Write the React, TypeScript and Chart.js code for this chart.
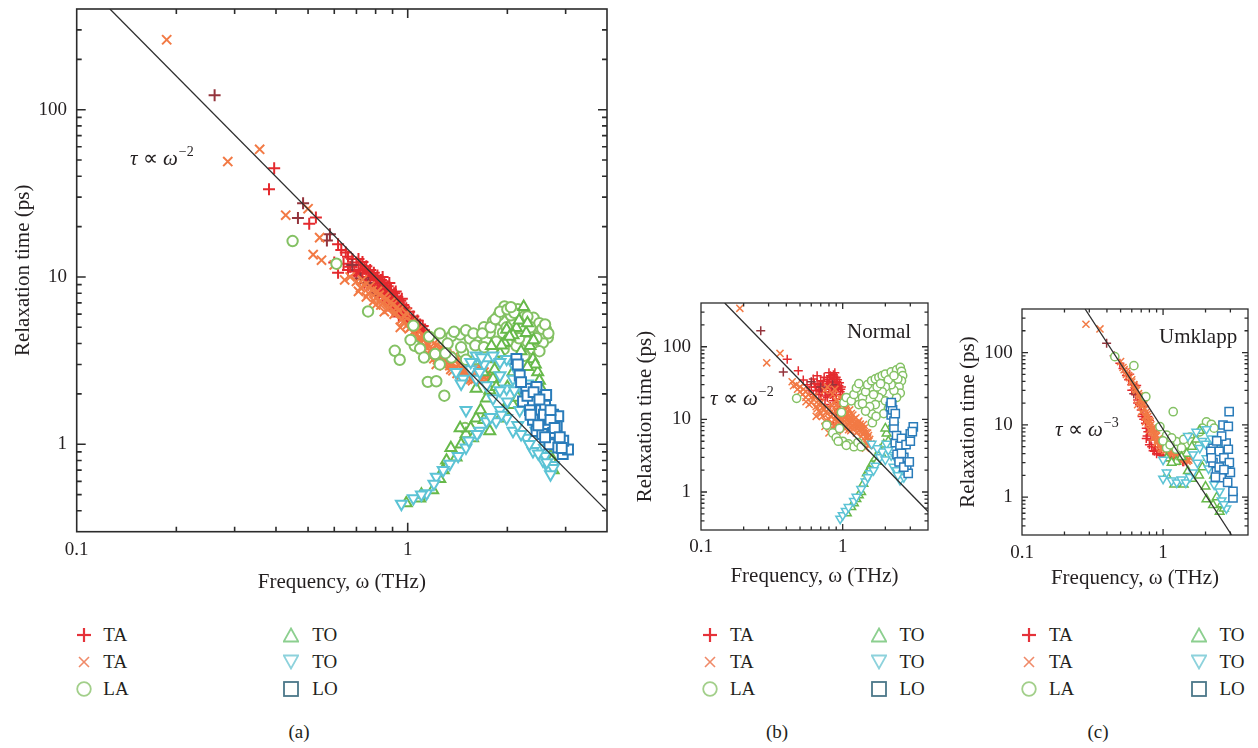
import React, { useEffect, useRef } from 'react';
import { Chart, registerables } from 'chart.js';
Chart.register(...registerables);

type P = [number, number];

// ---------- axis ticks ----------
const X_MAJOR = [0.1, 1];
const X_MINOR = [0.2, 0.3, 0.4, 0.5, 0.6, 0.7, 0.8, 0.9, 2, 3, 4];
const Y_MAJOR = [1, 10, 100];
const Y_MINOR = [0.3, 0.4, 0.5, 0.6, 0.7, 0.8, 0.9, 2, 3, 4, 5, 6, 7, 8, 9, 20, 30, 40, 50, 60, 70, 80, 90, 200, 300, 400];
const X_LABELS: Record<string, string> = { '0.1': '0.1', '1': '1' };
const Y_LABELS: Record<string, string> = { '1': '1', '10': '10', '100': '100' };
const X_TITLE = 'Frequency, ω (THz)';
const Y_TITLE = 'Relaxation time (ps)';
const LEGEND_LABELS = ['TA', 'TA', 'LA', 'TO', 'TO', 'LO'];
const SERIES_NAMES = ['TA', 'TA', 'TA', 'LA', 'TO', 'TO', 'LO'];

// ---------- panel (a) ----------
const A_TA_PLUS: P[] = [
  [0.395, 44.7], [0.381, 33.5], [0.528, 22.7], [0.504, 20.8], [0.616, 15.7], [0.63, 14.5], [0.65, 14.0], [0.616, 10.6], [0.60, 12.2],
  [0.66, 13.2], [0.68, 12.8], [0.67, 11.5], [0.70, 12.2], [0.71, 11.0], [0.72, 11.8], [0.73, 10.6], [0.74, 11.2], [0.75, 10.0],
  [0.76, 10.8], [0.77, 9.6], [0.78, 10.2], [0.79, 9.2], [0.80, 9.8], [0.81, 8.8], [0.82, 9.3], [0.83, 8.4], [0.84, 8.9], [0.85, 7.9],
  [0.86, 8.5], [0.87, 7.6], [0.88, 8.1], [0.89, 7.2], [0.90, 7.7], [0.91, 6.9], [0.92, 7.3], [0.93, 6.6], [0.94, 7.0], [0.95, 6.3],
  [0.96, 6.6], [0.97, 6.0], [0.98, 6.2], [0.99, 5.7], [1.00, 5.9], [1.02, 5.5], [1.03, 5.2], [1.05, 5.3], [1.06, 4.9], [1.08, 5.0],
  [1.10, 4.7], [1.12, 4.8], [0.74, 9.2], [0.78, 8.6], [0.82, 7.8], [0.86, 7.1], [0.90, 6.3], [0.94, 5.8], [0.70, 10.2], [0.84, 10.0],
  [0.88, 9.2], [0.92, 8.2], [0.96, 7.4],
  [0.64, 12.0], [0.66, 11.0], [0.69, 10.8], [0.71, 12.8], [0.73, 12.3], [0.75, 11.6], [0.77, 11.0], [0.79, 10.6], [0.81, 10.2],
  [0.83, 9.6], [0.85, 9.3], [0.87, 8.8], [0.89, 8.4], [0.91, 8.0], [0.93, 7.6], [0.95, 7.2], [0.97, 6.8], [0.99, 6.5], [1.01, 6.2],
  [1.04, 5.8], [1.07, 5.5], [1.09, 5.2], [1.11, 5.1], [1.14, 4.6], [0.80, 8.5], [0.84, 7.6], [0.88, 6.9], [0.92, 6.4], [0.96, 5.9],
  [1.00, 5.4], [1.04, 5.0], [0.76, 9.0], [0.72, 10.5],
];
const A_TA_DARK: P[] = [
  [0.261, 122], [0.483, 27.6], [0.466, 22.5], [0.582, 18.0], [0.57, 16.5], [0.68, 11.8], [0.72, 9.8], [0.76, 9.2], [0.80, 8.0],
];
const A_TA_CROSS: P[] = [
  [0.187, 262], [0.357, 58], [0.286, 49], [0.500, 25.6], [0.549, 12.6], [0.428, 23.4], [0.542, 17.2], [0.518, 13.6], [0.645, 9.6],
  [0.60, 11.8], [0.67, 10.0], [0.70, 9.4], [0.72, 8.6], [0.74, 8.9], [0.76, 8.0], [0.78, 8.3], [0.80, 7.5], [0.82, 7.8], [0.84, 7.0],
  [0.86, 7.3], [0.88, 6.6], [0.90, 6.8], [0.92, 6.1], [0.94, 6.3], [0.96, 5.6], [0.98, 5.8], [1.00, 5.2], [1.02, 5.0], [1.04, 4.7],
  [1.06, 4.5], [1.08, 4.2], [1.10, 4.3], [1.12, 3.9], [1.15, 4.0], [1.18, 3.7], [1.21, 3.5], [1.24, 3.6], [1.27, 3.3], [1.30, 3.2],
  [1.33, 3.1], [1.36, 3.0], [1.40, 2.9], [1.43, 2.8], [1.47, 2.75], [1.50, 2.65], [1.54, 2.6], [1.58, 2.55], [1.62, 2.5], [1.66, 2.48],
  [1.25, 3.05], [1.35, 2.8], [1.45, 2.6], [1.55, 2.45], [1.20, 3.25], [1.12, 3.6], [1.05, 4.1], [0.95, 5.0], [0.85, 6.2], [0.80, 6.8],
  [1.70, 2.7], [1.60, 2.75], [1.30, 3.6], [1.40, 3.2], [1.18, 4.2], [1.50, 2.9],
  [0.71, 8.2], [0.73, 9.6], [0.75, 7.6], [0.77, 8.8], [0.79, 7.2], [0.81, 8.2], [0.83, 6.8], [0.85, 7.6], [0.87, 6.4], [0.89, 7.1],
  [0.91, 6.0], [0.93, 6.6], [0.97, 5.4], [0.99, 6.1], [1.01, 4.9], [1.03, 5.4], [1.07, 4.8], [1.09, 4.0], [1.11, 4.5], [1.14, 3.8],
  [1.16, 4.3], [1.19, 3.5], [1.22, 3.9], [1.26, 3.4], [1.28, 3.7], [1.32, 3.35], [1.34, 2.95], [1.38, 3.2], [1.42, 3.0], [1.44, 2.7],
  [1.48, 2.9], [1.52, 2.55], [1.56, 2.7], [1.60, 2.45], [1.64, 2.65], [1.68, 2.55], [1.72, 2.6],
  [1.13, 4.4], [1.17, 3.3], [1.20, 4.0], [1.23, 3.2], [1.26, 3.8], [1.29, 2.95], [1.31, 3.5], [1.34, 3.35], [1.37, 2.75], [1.39, 3.4],
  [1.41, 2.65], [1.46, 3.1], [1.49, 2.5], [1.53, 2.85], [1.57, 2.4], [1.61, 2.9], [1.65, 2.35], [1.69, 2.8], [1.73, 2.45], [1.76, 2.65],
  [1.10, 3.7], [1.15, 3.5], [1.22, 3.0], [1.28, 3.1],
];
const A_LA: P[] = [
  [0.449, 16.4], [0.609, 12.0], [0.759, 6.22], [1.04, 5.12], [0.914, 3.62], [0.946, 3.2], [1.05, 3.88], [1.09, 3.73], [1.16, 4.4],
  [1.15, 2.36], [1.22, 2.38], [1.29, 1.95], [1.21, 3.46], [1.28, 4.27], [1.355, 4.43], [1.44, 4.53], [1.54, 4.28], [1.63, 4.43],
  [1.73, 4.2], [1.355, 3.3], [1.47, 3.54], [1.61, 3.23], [1.94, 5.43], [1.96, 6.66], [2.15, 6.42], [1.81, 5.43], [1.94, 4.64],
  [2.10, 5.43], [2.28, 5.31], [2.34, 4.53], [2.47, 5.08], [2.62, 4.85], [2.65, 4.34], [2.56, 4.05], [2.39, 3.7], [2.25, 3.38],
  [2.13, 3.88], [2.05, 4.5], [1.77, 4.64], [1.45, 3.8], [1.49, 1.25], [1.70, 5.0], [1.88, 5.9], [2.05, 5.9], [2.40, 5.7], [2.58, 4.6],
  [1.60, 3.9], [1.85, 4.1], [2.20, 4.9], [2.00, 4.1],
  [1.25, 4.6], [1.32, 4.0], [1.38, 4.7], [1.50, 4.8], [1.58, 4.6], [1.68, 4.6], [1.78, 5.0], [1.84, 5.6], [1.90, 6.2], [2.00, 6.4],
  [2.10, 6.1], [2.25, 5.8], [2.35, 5.0], [2.50, 5.3], [2.55, 4.9], [2.45, 4.3], [2.30, 4.1], [2.17, 4.3], [1.95, 3.7], [1.80, 3.6],
  [1.70, 3.8], [1.50, 3.2], [1.30, 3.5], [1.25, 3.0], [1.12, 3.3], [1.02, 4.2], [2.66, 4.6], [2.60, 5.2], [2.50, 3.6], [2.05, 6.6],
  [1.99, 5.0], [2.30, 5.8],
];
const A_TO_UP: P[] = [
  [0.99, 0.444], [1.087, 0.475], [1.19, 0.531], [1.25, 0.62], [1.31, 0.80], [1.40, 0.834], [1.50, 1.15], [1.61, 1.43], [1.73, 1.88],
  [1.81, 2.46], [1.85, 3.23], [1.96, 4.05], [1.99, 4.85], [2.13, 4.97], [2.28, 4.64], [2.34, 3.88], [2.39, 3.23], [2.47, 2.70],
  [2.53, 2.15], [2.62, 1.43], [2.68, 1.0], [2.75, 0.70], [2.08, 1.72], [1.90, 1.43], [1.77, 1.2], [1.57, 1.09], [1.44, 1.25],
  [1.69, 2.7], [2.08, 2.7], [2.20, 2.46], [1.61, 2.15], [1.79, 3.88], [2.24, 6.63], [2.08, 4.5], [1.90, 3.5], [2.20, 3.6], [2.60, 1.8],
  [2.70, 0.85], [1.35, 0.95], [2.00, 2.2],
  [1.10, 0.5], [1.28, 0.7], [1.45, 1.0], [1.55, 1.25], [1.66, 1.6], [1.77, 2.1], [1.83, 2.8], [1.92, 3.9], [2.03, 4.4], [2.17, 5.5],
  [2.30, 5.3], [2.40, 4.2], [2.43, 3.0], [2.50, 2.4], [2.56, 1.9], [2.65, 1.2], [2.72, 0.8], [1.95, 1.6], [2.15, 1.9], [2.30, 2.9],
  [1.85, 2.2], [1.70, 1.4],
];
const A_TO_DOWN: P[] = [
  [0.957, 0.44], [1.04, 0.475], [1.14, 0.508], [1.22, 0.637], [1.34, 0.762], [1.50, 0.955], [1.53, 1.05], [1.73, 1.37], [1.85, 1.37],
  [1.99, 1.43], [2.08, 1.2], [2.28, 1.09], [2.39, 0.91], [2.56, 0.8], [2.68, 0.70], [2.75, 0.75], [1.81, 1.88], [1.99, 2.15],
  [1.90, 2.58], [1.61, 3.38], [1.81, 3.38], [1.99, 3.23], [1.47, 2.46], [1.61, 2.46], [1.73, 2.25], [2.08, 2.46], [2.23, 2.06],
  [2.34, 1.72], [2.18, 1.6], [2.44, 1.2], [2.59, 0.95], [2.75, 0.72], [1.90, 1.6], [1.50, 1.6], [1.70, 3.0], [1.55, 2.8], [1.40, 2.7],
  [2.60, 0.85], [2.70, 0.66], [1.20, 0.58], [1.65, 1.2],
  [1.10, 0.5], [1.28, 0.7], [1.42, 0.85], [1.62, 1.15], [1.78, 1.45], [1.92, 1.5], [2.15, 1.3], [2.20, 1.15], [2.33, 1.0], [2.48, 0.88],
  [2.63, 0.78], [2.00, 1.8], [2.10, 2.1], [1.90, 2.1], [1.55, 3.1], [1.67, 3.3], [1.90, 3.1], [2.10, 2.9], [2.30, 2.3], [2.40, 1.9],
  [2.50, 1.5], [1.65, 2.7], [1.45, 2.3],
];
const A_LO: P[] = [
  [2.13, 3.23], [2.18, 2.58], [2.28, 2.15], [2.45, 2.2], [2.23, 1.8], [2.39, 1.8], [2.62, 1.97], [2.53, 1.6], [2.75, 1.5], [2.65, 1.32],
  [2.75, 1.17], [2.85, 1.47], [2.82, 1.28], [2.68, 1.0], [2.85, 0.955], [2.94, 0.874], [3.05, 0.93], [2.50, 1.4], [2.34, 1.6],
  [2.45, 1.2], [2.39, 1.4], [2.55, 1.15], [2.95, 1.05], [2.60, 1.7],
  [2.20, 2.35], [2.30, 1.95], [2.40, 2.05], [2.50, 1.85], [2.58, 1.5], [2.70, 1.4], [2.78, 1.25], [2.60, 1.1], [2.88, 1.1], [2.92, 0.95],
  [2.48, 1.3], [2.70, 1.6], [2.35, 1.5], [2.15, 3.0],
];
const A_FIT: P[] = [[0.126, 400], [4, 0.398]];

// ---------- panel (b) ----------
const B_TA_PLUS: P[] = [
  [0.406, 67], [0.486, 46.8], [0.527, 34.8], [0.56, 30], [0.60, 28], [0.62, 36], [0.65, 25], [0.66, 31], [0.68, 22], [0.70, 34],
  [0.72, 27], [0.74, 38], [0.75, 24], [0.77, 30], [0.78, 35], [0.80, 26], [0.82, 40], [0.83, 29], [0.85, 33], [0.86, 41], [0.87, 25],
  [0.88, 37], [0.90, 30], [0.92, 35], [0.93, 27], [0.95, 32], [0.96, 24], [0.70, 19], [0.78, 20], [0.85, 21], [0.90, 22], [0.62, 22],
  [0.58, 25], [0.66, 40], [0.80, 44], [0.88, 44], [0.98, 28], [1.00, 22], [0.75, 16], [0.82, 15], [0.88, 12], [0.92, 10.5], [0.80, 9],
  [0.86, 8.5], [0.95, 14], [0.72, 30], [0.90, 38], [0.84, 27],
  [0.64, 28], [0.68, 30], [0.71, 24], [0.73, 33], [0.76, 27], [0.79, 31], [0.81, 36], [0.84, 38], [0.87, 32], [0.89, 28], [0.91, 33],
  [0.94, 29], [0.97, 26], [0.82, 22], [0.76, 21], [0.69, 26], [0.63, 31], [0.86, 18], [0.92, 17], [0.97, 19],
];
const B_TA_DARK: P[] = [[0.264, 166], [0.381, 45], [0.60, 33], [0.70, 28], [0.85, 30], [0.90, 12]];
const B_TA_CROSS: P[] = [
  [0.188, 338], [0.361, 81], [0.291, 60], [0.551, 17.5], [0.44, 33], [0.47, 30], [0.50, 28], [0.53, 26], [0.55, 24], [0.60, 20],
  [0.58, 16], [0.65, 15], [0.68, 13], [0.70, 17], [0.72, 11], [0.76, 12.5], [0.80, 14], [0.82, 11], [0.84, 9], [0.87, 8.2], [0.90, 13],
  [0.92, 9.8], [0.95, 11], [0.97, 8.5], [1.00, 12], [1.02, 9.5], [1.05, 11], [1.08, 8.6], [1.10, 10.3], [1.13, 7.8], [1.16, 9.2],
  [1.20, 7.5], [1.25, 8.3], [1.30, 7], [1.35, 7.6], [1.40, 6.4], [1.45, 5.8], [1.50, 6.5], [1.55, 5.3], [1.50, 4.4], [1.45, 4.0],
  [0.90, 18], [1.00, 16], [0.85, 22], [0.75, 25], [0.78, 28], [0.88, 26], [0.95, 20], [1.05, 14], [1.15, 12], [0.80, 6.5], [0.92, 7.0],
  [0.75, 9.5],
  [0.96, 10], [1.00, 9], [1.03, 10.5], [1.06, 8], [1.09, 9.5], [1.12, 8.8], [1.14, 10.5], [1.18, 8.2], [1.22, 9], [1.27, 7.6], [1.32, 8],
  [1.38, 7], [1.42, 6.8], [1.48, 5.5], [1.52, 6], [0.98, 13], [1.08, 12], [1.20, 10], [1.10, 7.2], [1.25, 6.5], [1.35, 5.8], [0.88, 10],
  [0.94, 8], [0.86, 12], [0.80, 10], [0.70, 12], [0.66, 14], [0.60, 17], [0.63, 21], [0.57, 22], [0.67, 18], [0.74, 14], [0.83, 16],
  [0.93, 15], [1.00, 19], [1.06, 16], [1.12, 13.5], [1.18, 11.5], [1.30, 9.5], [1.40, 8.5], [1.48, 4.8], [1.55, 4.4],
  [0.90, 15.5], [0.95, 17], [1.02, 13], [1.06, 12.5], [1.10, 11.2], [1.15, 10], [1.20, 8.8], [1.24, 10.5], [1.28, 9], [1.33, 8.6],
  [1.37, 7.4], [1.42, 7.6], [1.46, 6.6], [1.50, 5.6], [1.53, 5], [1.58, 4.6], [0.97, 11.6], [1.04, 7.4], [1.14, 7], [0.84, 13],
  [0.78, 12], [0.72, 14.5], [0.68, 16], [0.62, 19], [0.55, 20], [0.52, 22], [0.48, 26], [0.45, 29], [0.50, 24], [0.65, 11], [0.75, 8],
  [0.85, 7.5], [0.95, 9],
];
const B_LA: P[] = [
  [0.473, 19.5], [0.771, 8.36], [0.85, 6.5], [0.90, 5.6], [0.95, 7.5], [1.00, 5.0], [1.10, 4.6], [1.20, 4.2],
  [1.28, 4.8], [1.35, 4.2], [1.02, 17], [1.06, 20], [1.15, 18], [1.20, 22], [1.25, 27],
  [1.30, 31], [1.30, 16], [1.38, 20], [1.45, 24], [1.50, 30], [1.60, 34], [1.70, 36], [1.80, 38], [1.90, 40],
  [2.00, 42], [2.20, 45], [2.40, 48], [2.55, 52], [2.60, 46], [2.65, 40], [2.60, 34], [2.50, 28], [2.55, 23], [2.40, 20], [2.30, 25],
  [2.20, 30], [2.10, 35], [2.00, 28], [1.90, 24], [1.80, 20], [1.70, 16], [1.60, 12], [1.55, 15], [1.65, 22],
  [1.75, 28], [1.85, 31], [2.00, 18], [2.10, 14], [1.45, 13], [1.95, 12], [2.20, 17], [2.45, 36], [2.30, 40],
  [0.98, 12.5], [1.62, 9], [1.72, 11], [1.38, 16.5], [0.93, 5.0], [1.06, 4.4],
];
const B_TO_UP: P[] = [
  [1.07, 0.51], [1.15, 0.62], [1.25, 0.8], [1.35, 1.0], [1.48, 1.81], [1.60, 2.4], [1.70, 2.9], [1.83, 3.78], [2.04, 6.4], [2.10, 5.0],
  [1.95, 4.5], [1.40, 1.3], [1.55, 2.0], [2.20, 8.0], [2.30, 10], [1.90, 3.2], [1.75, 2.6], [1.30, 0.9], [1.20, 0.7], [2.00, 7.5],
];
const B_TO_DOWN: P[] = [
  [0.96, 0.43], [1.00, 0.48], [1.05, 0.55], [1.10, 0.62], [1.20, 0.75], [1.25, 0.86], [1.35, 1.1], [1.45, 1.4], [1.56, 1.81], [1.70, 2.3],
  [1.83, 3.0], [2.04, 4.6], [2.28, 2.23], [2.54, 1.46], [2.80, 1.8], [2.20, 3.2], [2.40, 2.0], [2.60, 2.5], [1.90, 3.6], [2.00, 2.8],
  [1.75, 4.0], [1.60, 4.6], [2.10, 3.8], [2.35, 3.0], [1.50, 1.6], [1.65, 2.0], [2.70, 1.6], [2.45, 1.7],
];
const B_LO: P[] = [
  [2.22, 15.8], [2.20, 11.5], [2.30, 7.7], [2.35, 4.8], [2.54, 3.7], [2.83, 2.23], [2.90, 1.8], [3.15, 7.9], [3.00, 6.3], [2.54, 4.4],
  [2.17, 15], [2.42, 3.3], [2.25, 13.5], [2.30, 9.5], [2.40, 6], [2.60, 5.5], [2.70, 3], [2.80, 4.5], [3.00, 5.0], [3.10, 6.8],
  [2.50, 2.6], [2.70, 2.2], [2.95, 2.6], [2.60, 3.4], [2.20, 17], [2.35, 12],
];
const B_FIT: P[] = [[0.147, 400], [4, 0.54]];

// ---------- panel (c) ----------
const C_TA_PLUS: P[] = [
  [0.494, 71], [0.52, 60], [0.55, 48], [0.57, 42], [0.60, 36], [0.62, 30], [0.64, 26], [0.66, 22], [0.68, 19], [0.70, 16], [0.72, 14],
  [0.73, 12], [0.75, 10.5], [0.76, 9], [0.76, 6.5], [0.78, 8], [0.80, 5.3], [0.82, 6.2], [0.85, 4.4], [0.88, 5.0], [0.90, 4.0],
  [0.95, 3.9], [1.00, 3.7], [1.06, 3.6], [1.15, 3.4], [1.30, 3.2], [1.47, 3.1], [0.58, 50], [0.65, 35], [0.70, 24], [0.74, 18],
  [0.78, 13], [0.80, 11.5], [0.83, 9.5], [0.86, 8.2], [1.25, 3.3], [1.38, 3.1], [0.92, 4.6],
  [0.60, 30], [0.66, 20], [0.71, 13], [0.77, 7], [0.83, 5], [0.87, 4.3], [0.97, 3.8], [1.10, 3.5], [1.20, 3.4], [1.40, 3.1],
];
const C_TA_DARK: P[] = [[0.398, 134], [0.45, 90], [0.62, 27]];
const C_TA_CROSS: P[] = [
  [0.284, 246], [0.357, 212], [0.50, 75], [0.52, 62], [0.55, 55], [0.57, 48], [0.60, 42], [0.62, 36], [0.65, 30], [0.67, 27], [0.70, 22],
  [0.72, 20], [0.74, 17], [0.76, 15], [0.78, 13], [0.80, 11.5], [0.82, 10], [0.84, 9], [0.86, 8], [0.88, 7.5], [0.90, 7], [0.93, 6.4],
  [0.96, 6], [1.00, 5.6], [1.04, 5.2], [1.08, 4.9], [1.12, 4.6], [1.18, 4.3], [1.25, 4.0], [1.30, 3.8], [1.38, 3.6], [1.45, 3.4],
  [1.50, 3.3], [1.55, 3.5], [0.75, 11], [0.80, 8.5], [0.85, 6.6], [0.90, 5.6], [0.95, 5.0], [1.00, 4.6], [1.10, 4.2], [1.20, 3.8],
  [0.70, 15], [0.66, 19],
  [0.53, 58], [0.58, 45], [0.63, 33], [0.68, 25], [0.73, 19], [0.77, 14], [0.81, 11], [0.85, 8.6], [0.89, 7.2], [0.92, 6.0],
  [0.98, 5.3], [1.02, 4.9], [1.06, 4.5], [1.14, 4.2], [1.22, 3.9], [1.34, 3.5], [1.42, 3.3],
  [0.55, 50], [0.60, 39], [0.64, 31], [0.69, 23], [0.71, 18], [0.75, 13], [0.79, 10.5], [0.83, 8], [0.87, 6.8], [0.91, 6.2], [0.94, 5.4],
  [0.97, 4.7], [1.03, 4.4], [1.09, 4.5], [1.16, 4.0], [1.24, 3.6], [1.32, 3.6], [1.40, 3.4], [1.48, 3.15], [1.52, 3.25],
];
const C_LA: P[] = [
  [0.455, 87.7], [0.621, 65.8], [0.755, 24.5], [1.18, 15.2], [0.95, 9.44], [1.06, 7.2], [1.24, 5.85], [1.47, 5.4], [1.06, 4.8],
  [1.24, 4.6], [2.03, 11.0], [2.20, 10.2], [1.82, 8.0], [1.55, 6.8], [1.00, 6.0], [1.12, 5.3], [1.35, 4.8], [1.60, 5.8], [1.90, 9.0],
  [1.40, 6.3], [1.15, 6.6], [2.30, 9.0],
];
const C_TO_UP: P[] = [
  [1.06, 3.45], [1.24, 3.1], [1.47, 4.0], [1.72, 6.3], [1.82, 8.3], [1.60, 5.0], [1.35, 3.6], [1.15, 3.0], [1.06, 2.0], [1.20, 1.5],
  [1.40, 1.5], [1.60, 1.8], [1.80, 2.0], [2.00, 1.4], [2.26, 0.78], [2.52, 0.63], [2.03, 0.94], [2.40, 1.0], [1.90, 2.6], [2.10, 3.5],
  [2.30, 2.0], [2.60, 0.8], [2.70, 0.7], [1.50, 2.3],
];
const C_TO_DOWN: P[] = [
  [1.00, 1.8], [1.06, 2.2], [1.15, 1.7], [1.25, 1.6], [1.35, 1.75], [1.45, 1.6], [1.55, 1.9], [1.63, 2.2], [1.72, 8.0], [2.03, 8.7],
  [1.82, 4.8], [1.63, 3.9], [2.03, 3.45], [2.40, 4.8], [2.81, 0.70], [2.52, 1.2], [2.30, 1.5], [2.60, 0.9], [1.90, 6.0], [2.20, 6.5],
  [1.75, 3.0], [2.10, 2.5], [1.00, 3.3], [2.70, 0.8], [1.50, 7.0], [2.00, 5.5],
];
const C_LO: P[] = [
  [2.94, 15.2], [2.66, 9.96], [2.26, 4.75], [2.50, 4.3], [2.80, 5.6], [2.81, 2.78], [2.39, 2.25], [2.58, 1.86], [2.87, 1.6], [3.13, 0.98],
  [3.13, 1.2], [2.26, 3.0], [2.18, 4.3], [2.90, 4.6], [2.90, 9.5], [2.60, 7], [2.40, 6], [2.20, 3.5], [2.70, 3.5], [2.95, 3.0],
  [3.00, 2.2], [2.50, 2.6], [2.35, 1.9], [2.70, 2.4],
];
const C_FIT: P[] = [[0.28, 400], [3.06, 0.3]];

// ---------- styling ----------
const FONT = "'Liberation Serif', 'Times New Roman', serif";
const INK = '#231f20';
const COL = {
  plus: '#e42a2e', dark: '#94343c', cross: '#f27a45', la: '#84c164', up: '#67b94a', down: '#5cc3d5', lo: '#2a7cba',
};
const LEG_COL = {
  plus: '#e5323a', cross: '#f08a68', circle: '#a2cf8a', up: '#8ccf8f', down: '#8dd2dc', square: '#4b7789',
};

type Sizes = { plus: number; cross: number; circle: number; tri: number; rect: number; bw: number };
type PanelCfg = {
  box: { left: number; top: number; width: number; height: number };
  plot: { left: number; top: number; right: number; bottom: number };
  yTitlePad: number; xTitlePad: number; xTickPad: number; yTickPad: number;
  major: number; minor: number; frameW: number;
  sizes: Sizes;
  series: { plus: P[]; dark: P[]; cross: P[]; la: P[]; up: P[]; down: P[]; lo: P[]; fit: P[] };
};

const BIG: Sizes = { plus: 6, cross: 6.5, circle: 5.2, tri: 6.3, rect: 7, bw: 2 };
const SMALL: Sizes = { plus: 4.5, cross: 5, circle: 4.1, tri: 5, rect: 5.8, bw: 1.5 };

const PANELS: PanelCfg[] = [
  {
    box: { left: 0, top: 0, width: 620, height: 600 },
    plot: { left: 76.7, top: 1.5, right: 607, bottom: 531.7 },
    yTitlePad: 10.4, xTitlePad: 5.4, xTickPad: 6.9, yTickPad: 9.7, major: 9, minor: 5, frameW: 1.6, sizes: BIG,
    series: { plus: A_TA_PLUS, dark: A_TA_DARK, cross: A_TA_CROSS, la: A_LA, up: A_TO_UP, down: A_TO_DOWN, lo: A_LO, fit: A_FIT },
  },
  {
    box: { left: 620, top: 280, width: 320, height: 320 },
    plot: { left: 701, top: 303, right: 928, bottom: 530 },
    yTitlePad: 12.4, xTitlePad: 11.4, xTickPad: 6.0, yTickPad: 10, major: 6, minor: 3.5, frameW: 1.3, sizes: SMALL,
    series: { plus: B_TA_PLUS, dark: B_TA_DARK, cross: B_TA_CROSS, la: B_LA, up: B_TO_UP, down: B_TO_DOWN, lo: B_LO, fit: B_FIT },
  },
  {
    box: { left: 940, top: 280, width: 318, height: 320 },
    plot: { left: 1022, top: 309, right: 1248, bottom: 535 },
    yTitlePad: 15.4, xTitlePad: 9.4, xTickPad: 6.9, yTickPad: 9.3, major: 6, minor: 3.5, frameW: 1.3, sizes: SMALL,
    series: { plus: C_TA_PLUS, dark: C_TA_DARK, cross: C_TA_CROSS, la: C_LA, up: C_TO_UP, down: C_TO_DOWN, lo: C_LO, fit: C_FIT },
  },
];

const framePlugin = {
  id: 'frame',
  afterDatasetsDraw(chart: any, _a: any, opts: any) {
    const { ctx, chartArea: a, scales } = chart;
    const xs = scales.x, ys = scales.y;
    ctx.save();
    ctx.strokeStyle = '#2b2b2b';
    ctx.lineWidth = opts.frameW;
    ctx.strokeRect(a.left, a.top, a.right - a.left, a.bottom - a.top);
    ctx.beginPath();
    const xt = (v: number, L: number) => {
      const p = xs.getPixelForValue(v);
      if (p <= a.left + 1 || p >= a.right - 1) return;
      ctx.moveTo(p, a.bottom); ctx.lineTo(p, a.bottom - L);
      ctx.moveTo(p, a.top); ctx.lineTo(p, a.top + L);
    };
    const yt = (v: number, L: number) => {
      const p = ys.getPixelForValue(v);
      if (p <= a.top + 1 || p >= a.bottom - 1) return;
      ctx.moveTo(a.left, p); ctx.lineTo(a.left + L, p);
      ctx.moveTo(a.right, p); ctx.lineTo(a.right - L, p);
    };
    X_MAJOR.forEach((v) => xt(v, opts.major));
    X_MINOR.forEach((v) => xt(v, opts.minor));
    Y_MAJOR.forEach((v) => yt(v, opts.major));
    Y_MINOR.forEach((v) => yt(v, opts.minor));
    ctx.stroke();
    ctx.restore();
  },
};

const pts = (d: P[]) => d.map(([x, y]) => ({ x, y }));

function buildConfig(cfg: PanelCfg): any {
  const s = cfg.sizes;
  const S = cfg.series;
  const mk = (label: string, data: P[], style: string, color: string, r: number, order: number, extra: any = {}) => ({
    type: 'scatter', label, data: pts(data), order,
    pointStyle: style, pointRadius: r, pointHoverRadius: r,
    pointBorderColor: color, pointBackgroundColor: '#ffffff', pointBorderWidth: s.bw,
    ...extra,
  });
  const { box, plot } = cfg;
  return {
    type: 'scatter',
    data: {
      datasets: [
        { type: 'scatter', label: 'fit', data: pts(S.fit), showLine: true, borderColor: '#2e2e2e', borderWidth: 1.3, pointRadius: 0, order: 0 },
        mk(SERIES_NAMES[6], S.lo, 'rect', COL.lo, s.rect, 1),
        mk(SERIES_NAMES[5], S.down, 'triangle', COL.down, s.tri, 2, { pointRotation: 180 }),
        mk(SERIES_NAMES[4], S.up, 'triangle', COL.up, s.tri, 3),
        mk(SERIES_NAMES[3], S.la, 'circle', COL.la, s.circle, 4),
        mk(SERIES_NAMES[2], S.cross, 'crossRot', COL.cross, s.cross, 5),
        mk(SERIES_NAMES[1], S.dark, 'cross', COL.dark, s.plus, 6),
        mk(SERIES_NAMES[0], S.plus, 'cross', COL.plus, s.plus, 7),
      ],
    },
    options: {
      responsive: false,
      animation: false,
      events: [],
      layout: { padding: { left: 0, top: plot.top - box.top, right: box.left + box.width - plot.right, bottom: 0 } },
      plugins: {
        legend: { display: false },
        tooltip: { enabled: false },
        frame: { frameW: cfg.frameW, major: cfg.major, minor: cfg.minor },
      },
      scales: {
        x: {
          type: 'logarithmic', position: 'bottom', min: 0.1, max: 4,
          grid: { display: false, drawTicks: false },
          border: { display: false },
          ticks: {
            autoSkip: false, maxRotation: 0, padding: cfg.xTickPad, color: INK, font: { family: FONT, size: 19 },
            callback: (v: number) => X_LABELS[String(v)] ?? '',
          },
          afterBuildTicks: (sc: any) => { sc.ticks = X_MAJOR.map((value) => ({ value })); },
          afterFit: (sc: any) => { sc.height = box.top + box.height - plot.bottom; sc.paddingLeft = 0; sc.paddingRight = 0; },
          title: { display: true, text: X_TITLE, color: INK, font: { family: FONT, size: 21 }, padding: { top: 0, bottom: cfg.xTitlePad } },
        },
        y: {
          type: 'logarithmic', position: 'left', min: 0.3, max: 400,
          grid: { display: false, drawTicks: false },
          border: { display: false },
          ticks: {
            autoSkip: false, padding: cfg.yTickPad, color: INK, font: { family: FONT, size: 19 },
            callback: (v: number) => Y_LABELS[String(v)] ?? '',
          },
          afterBuildTicks: (sc: any) => { sc.ticks = Y_MAJOR.map((value) => ({ value })); },
          afterFit: (sc: any) => { sc.width = plot.left - box.left; sc.paddingTop = 0; sc.paddingBottom = 0; },
          title: { display: true, text: Y_TITLE, color: INK, font: { family: FONT, size: 21 }, padding: { top: cfg.yTitlePad, bottom: 0 } },
        },
      },
    },
    plugins: [framePlugin],
  };
}

function PanelChart({ cfg }: { cfg: PanelCfg }) {
  const ref = useRef<HTMLCanvasElement | null>(null);
  useEffect(() => {
    const chart = new Chart(ref.current as HTMLCanvasElement, buildConfig(cfg));
    return () => chart.destroy();
  }, [cfg]);
  const b = cfg.box;
  return (
    <canvas
      ref={ref}
      width={b.width}
      height={b.height}
      style={{ position: 'absolute', left: b.left, top: b.top, width: b.width, height: b.height }}
    />
  );
}

function Marker({ kind }: { kind: string }) {
  const common = { fill: 'none', strokeWidth: 1.8 } as any;
  let el: any = null;
  if (kind === 'plus') el = <g stroke={LEG_COL.plus} strokeWidth={2.2}><line x1={1} y1={8} x2={15} y2={8} /><line x1={8} y1={1} x2={8} y2={15} /></g>;
  if (kind === 'cross') el = <g stroke={LEG_COL.cross} strokeWidth={1.6}><line x1={3} y1={3} x2={13} y2={13} /><line x1={13} y1={3} x2={3} y2={13} /></g>;
  if (kind === 'circle') el = <circle cx={8} cy={8} r={6.8} stroke={LEG_COL.circle} {...common} />;
  if (kind === 'up') el = <polygon points="8,1.5 15.3,14.5 0.7,14.5" stroke={LEG_COL.up} {...common} />;
  if (kind === 'down') el = <polygon points="0.7,1.5 15.3,1.5 8,14.5" stroke={LEG_COL.down} {...common} />;
  if (kind === 'square') el = <rect x={1} y={1} width={14} height={14} stroke={LEG_COL.square} {...common} />;
  return <svg width={16} height={16} viewBox="0 0 16 16" style={{ display: 'block' }}>{el}</svg>;
}

const LEGEND_KINDS = ['plus', 'cross', 'circle', 'up', 'down', 'square'];
const LEGEND_ROWS = [635, 662, 689];
const LEGENDS = [
  { c1m: 84, c1t: 103.3, c2m: 291, c2t: 312.3, tag: '(a)', tagX: 299 },
  { c1m: 710, c1t: 730, c2m: 879, c2t: 899.5, tag: '(b)', tagX: 777 },
  { c1m: 1029, c1t: 1049, c2m: 1198.5, c2t: 1219.5, tag: '(c)', tagX: 1098 },
];

const textStyle: any = { position: 'absolute', fontFamily: FONT, color: INK, whiteSpace: 'nowrap' };

function Legend({ L }: { L: (typeof LEGENDS)[number] }) {
  const items = LEGEND_KINDS.map((k, i) => {
    const col = i < 3 ? 0 : 1;
    const row = i % 3;
    const y = LEGEND_ROWS[row];
    const mx = col === 0 ? L.c1m : L.c2m;
    const tx = col === 0 ? L.c1t : L.c2t;
    return (
      <React.Fragment key={i}>
        <div style={{ position: 'absolute', left: mx - 8, top: y - 8 }}><Marker kind={k} /></div>
        <div style={{ ...textStyle, left: tx, top: y - 12, height: 24, lineHeight: '24px', fontSize: 19 }}>{LEGEND_LABELS[i]}</div>
      </React.Fragment>
    );
  });
  return (
    <>
      {items}
      <div style={{ ...textStyle, left: L.tagX - 30, width: 60, textAlign: 'center', top: 732 - 12, height: 24, lineHeight: '24px', fontSize: 19 }}>{L.tag}</div>
    </>
  );
}

function PowerLaw({ left, baseline, exp }: { left: number; baseline: number; exp: string }) {
  return (
    <div style={{ ...textStyle, left, top: baseline - 17.6, fontSize: 21, lineHeight: '21px' }}>
      <i>τ</i> ∝ <i>ω</i>
      <span style={{ fontSize: 14, position: 'relative', top: -9, marginLeft: 1 }}>{exp}</span>
    </div>
  );
}

export default function App() {
  return (
    <div style={{ position: 'absolute', left: 0, top: 0, width: 1258, height: 748, background: '#ffffff', overflow: 'hidden' }}>
      {PANELS.map((p, i) => <PanelChart key={i} cfg={p} />)}
      <PowerLaw left={130} baseline={166} exp="−2" />
      <PowerLaw left={710} baseline={406} exp="−2" />
      <PowerLaw left={1055} baseline={437} exp="−3" />
      <div style={{ ...textStyle, left: 847, top: 339 - 17.6, fontSize: 21, lineHeight: '21px' }}>Normal</div>
      <div style={{ ...textStyle, left: 1159, top: 344 - 17.6, fontSize: 21, lineHeight: '21px' }}>Umklapp</div>
      {LEGENDS.map((L, i) => <Legend key={i} L={L} />)}
    </div>
  );
}
